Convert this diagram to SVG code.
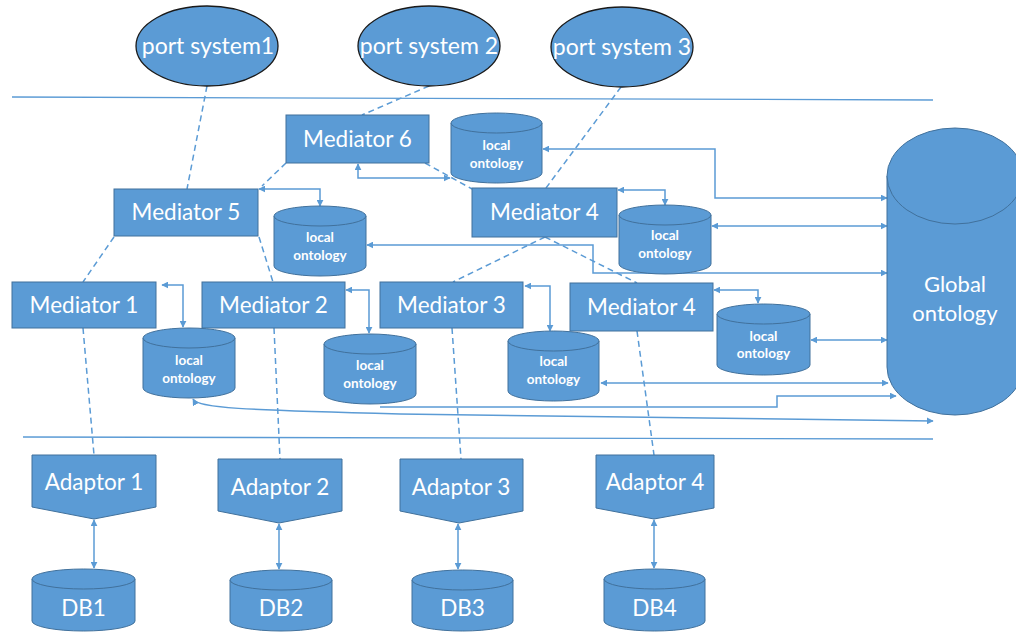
<svg xmlns="http://www.w3.org/2000/svg" width="1016" height="633" viewBox="0 0 1016 633">
<defs>
<style>
.box{fill:#5B9BD5;stroke:#41719C;stroke-width:1}
.ell{fill:#5B9BD5;stroke:#1a1a1a;stroke-width:1.3}
.t{font-family:Lato,"Liberation Sans",sans-serif;fill:#fff;text-anchor:middle;dominant-baseline:central}
.big{font-size:22.5px}
.pt{font-size:23px}
.sm{font-size:13.5px;font-weight:bold}
.sep{stroke:#5B9BD5;stroke-width:1.3;fill:none}
.dash{stroke:#5B9BD5;stroke-width:1.5;fill:none;stroke-dasharray:6,4}
.con{stroke:#5B9BD5;stroke-width:1.5;fill:none}
.bi{marker-start:url(#ah);marker-end:url(#ah)}
.uni{marker-end:url(#ah)}
</style>
<marker id="ah" viewBox="0 0 10 10" refX="9" refY="5" markerWidth="7" markerHeight="7" markerUnits="userSpaceOnUse" orient="auto-start-reverse">
<path d="M0,0 L10,5 L0,10 z" fill="#5B9BD5"/>
</marker>
</defs>

<g id="separators">
<line class="sep" x1="12" y1="97" x2="933" y2="100"/>
<line class="sep" x1="23" y1="437" x2="933" y2="439"/>
</g>

<g id="connectors">
<path class="dash" d="M207,86 L187,189"/>
<path class="dash" d="M429,86 L362,115"/>
<path class="dash" d="M621,87 L546,188"/>
<path class="dash" d="M286,163 L262,186"/>
<path class="dash" d="M425,163 L472,189"/>
<path class="dash" d="M114,237 L83,282"/>
<path class="dash" d="M259,237 L273,282"/>
<path class="dash" d="M545,237 L453,282"/>
<path class="dash" d="M545,237 L637,283"/>
<path class="dash" d="M83,328 L94,455"/>
<path class="dash" d="M274,328 L280,459"/>
<path class="dash" d="M452,328 L461,459"/>
<path class="dash" d="M637,331 L654,455"/>

<path class="con bi" d="M358,164 V178 H450"/>
<path class="con bi" d="M259,189 H320 V206"/>
<path class="con bi" d="M543,149 H715 V198 H887"/>
<path class="con bi" d="M618,190 H665 V205"/>
<path class="con bi" d="M712,226 H887"/>
<path class="con bi" d="M367,245 H593 V273 H887"/>
<path class="con bi" d="M162,285 H183 V327"/>
<path class="con bi" d="M346,290 H369 V333"/>
<path class="con bi" d="M525,286 H550 V331"/>
<path class="con bi" d="M714,290 H758 V303"/>
<path class="con bi" d="M811,340 H887"/>
<path class="con bi" d="M601,383 H888"/>
<path class="con uni" d="M380,407 H777 V396 H896"/>
<path class="con bi" d="M193,399 C198,408 240,410 400,414 L933,421"/>

<path class="con bi" d="M94,520 V568"/>
<path class="con bi" d="M279,524 V569"/>
<path class="con bi" d="M458,524 V569"/>
<path class="con bi" d="M654,520 V568"/>
</g>

<g id="port1"><ellipse class="ell" cx="207" cy="46" rx="71" ry="40"/><text class="t pt" x="208" y="45">port system1</text></g>
<g id="port2"><ellipse class="ell" cx="429" cy="46" rx="71" ry="40"/><text class="t pt" x="429" y="45">port system 2</text></g>
<g id="port3"><ellipse class="ell" cx="622" cy="47" rx="71" ry="40"/><text class="t pt" x="622" y="46">port system 3</text></g>

<g id="mediator6"><rect class="box" x="286" y="115" width="143" height="48"/><text class="t big" x="357.5" y="138">Mediator 6</text></g>
<g id="mediator5"><rect class="box" x="114" y="189" width="144" height="47"/><text class="t big" x="186" y="211.5">Mediator 5</text></g>
<g id="mediator4a"><rect class="box" x="472" y="188" width="145" height="49"/><text class="t big" x="544.5" y="211.5">Mediator 4</text></g>
<g id="mediator1"><rect class="box" x="12" y="282" width="144" height="46"/><text class="t big" x="84" y="304">Mediator 1</text></g>
<g id="mediator2"><rect class="box" x="202" y="282" width="143" height="46"/><text class="t big" x="273.5" y="304">Mediator 2</text></g>
<g id="mediator3"><rect class="box" x="380" y="282" width="143" height="46"/><text class="t big" x="451.5" y="304">Mediator 3</text></g>
<g id="mediator4b"><rect class="box" x="570" y="283" width="143" height="48"/><text class="t big" x="641.5" y="306">Mediator 4</text></g>

<g id="lo6"><path class="box" d="M451,123 A45.5,10 0 0 1 542,123 V173 A45.5,10 0 0 1 451,173 Z"/><path class="box" d="M451,123 A45.5,10 0 0 0 542,123"/><text class="t sm" x="496.5" y="145">local</text><text class="t sm" x="496.5" y="163">ontology</text></g>
<g id="lo5"><path class="box" d="M274,216 A46,10 0 0 1 366,216 V266 A46,10 0 0 1 274,266 Z"/><path class="box" d="M274,216 A46,10 0 0 0 366,216"/><text class="t sm" x="320" y="237">local</text><text class="t sm" x="320" y="255">ontology</text></g>
<g id="lo4a"><path class="box" d="M619,215 A46,10 0 0 1 711,215 V264 A46,10 0 0 1 619,264 Z"/><path class="box" d="M619,215 A46,10 0 0 0 711,215"/><text class="t sm" x="665" y="235">local</text><text class="t sm" x="665" y="253">ontology</text></g>
<g id="lo1"><path class="box" d="M143,338 A46,10 0 0 1 235,338 V388 A46,10 0 0 1 143,388 Z"/><path class="box" d="M143,338 A46,10 0 0 0 235,338"/><text class="t sm" x="189" y="360">local</text><text class="t sm" x="189" y="378">ontology</text></g>
<g id="lo2"><path class="box" d="M324,344 A46,10 0 0 1 416,344 V394 A46,10 0 0 1 324,394 Z"/><path class="box" d="M324,344 A46,10 0 0 0 416,344"/><text class="t sm" x="370" y="365">local</text><text class="t sm" x="370" y="383">ontology</text></g>
<g id="lo3"><path class="box" d="M508,341 A45.5,10 0 0 1 599,341 V391 A45.5,10 0 0 1 508,391 Z"/><path class="box" d="M508,341 A45.5,10 0 0 0 599,341"/><text class="t sm" x="553.5" y="361">local</text><text class="t sm" x="553.5" y="379">ontology</text></g>
<g id="lo4b"><path class="box" d="M717,314 A46.5,10 0 0 1 810,314 V365 A46.5,10 0 0 1 717,365 Z"/><path class="box" d="M717,314 A46.5,10 0 0 0 810,314"/><text class="t sm" x="763.5" y="336">local</text><text class="t sm" x="763.5" y="353">ontology</text></g>

<g id="global"><path class="box" d="M887,176 A68,48 0 0 1 1023,176 V367 A68,48 0 0 1 887,367 Z"/><path class="box" d="M887,176 A68,48 0 0 0 1023,176"/><text class="t" style="font-size:22px" x="955" y="283">Global</text><text class="t" style="font-size:22px" x="955" y="312">ontology</text></g>

<g id="adaptor1"><path class="box" d="M32,455 H156 V507 L94,519 L32,507 Z"/><text class="t big" x="94" y="481">Adaptor 1</text></g>
<g id="adaptor2"><path class="box" d="M218,459 H342 V511 L279,523 L218,511 Z"/><text class="t big" x="280" y="486">Adaptor 2</text></g>
<g id="adaptor3"><path class="box" d="M400,459 H523 V511 L459,523 L400,511 Z"/><text class="t big" x="461" y="486">Adaptor 3</text></g>
<g id="adaptor4"><path class="box" d="M596,455 H714 V508 L654,519 L596,508 Z"/><text class="t big" x="655" y="481">Adaptor 4</text></g>

<g id="db1"><path class="box" d="M32,579 A51.5,10 0 0 1 135,579 V621 A51.5,10 0 0 1 32,621 Z"/><path class="box" d="M32,579 A51.5,10 0 0 0 135,579"/><text class="t big" x="83.5" y="607">DB1</text></g>
<g id="db2"><path class="box" d="M230,580 A51,10 0 0 1 332,580 V621 A51,10 0 0 1 230,621 Z"/><path class="box" d="M230,580 A51,10 0 0 0 332,580"/><text class="t big" x="281" y="607">DB2</text></g>
<g id="db3"><path class="box" d="M412,580 A50.5,10 0 0 1 513,580 V621 A50.5,10 0 0 1 412,621 Z"/><path class="box" d="M412,580 A50.5,10 0 0 0 513,580"/><text class="t big" x="462.5" y="607">DB3</text></g>
<g id="db4"><path class="box" d="M604,579 A50.5,10 0 0 1 705,579 V621 A50.5,10 0 0 1 604,621 Z"/><path class="box" d="M604,579 A50.5,10 0 0 0 705,579"/><text class="t big" x="654.5" y="607">DB4</text></g>
</svg>
